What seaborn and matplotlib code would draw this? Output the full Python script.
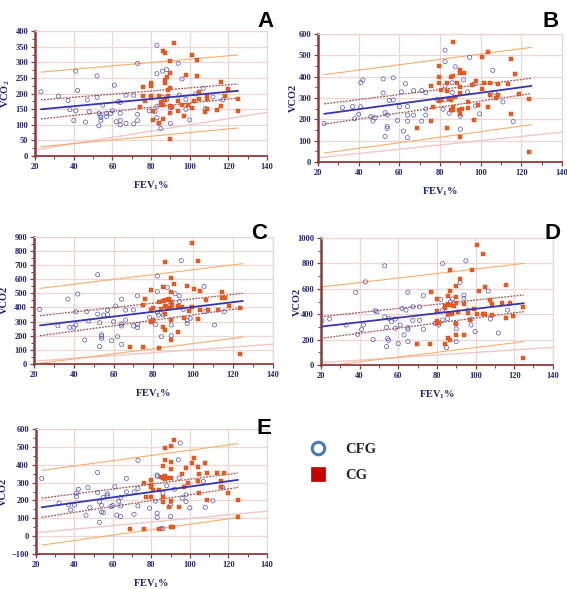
import matplotlib
matplotlib.use('Agg')
import matplotlib.pyplot as plt
import seaborn as sns
import pandas as pd
from matplotlib.lines import Line2D
from matplotlib.ticker import MultipleLocator, AutoMinorLocator

sns.set_style('white')
plt.rcParams['font.family'] = ['Liberation Serif', 'DejaVu Serif']
plt.rcParams['mathtext.fontset'] = 'custom'
plt.rcParams['mathtext.rm'] = 'Liberation Serif:bold'
plt.rcParams['mathtext.it'] = 'Liberation Serif:bold'
plt.rcParams['mathtext.bf'] = 'Liberation Serif:bold'

# ---- data ----
# panel A : VCO2
A_CFG_X = [23, 32, 37, 38, 40, 41, 41, 42, 46, 47, 48, 52, 52, 53, 53, 54, 54, 54, 55, 57, 57, 59, 60, 61,
           62, 63, 64, 64, 64, 64, 67, 67, 71, 71, 73, 73, 73, 79, 82, 83, 83, 83, 83, 84, 85, 86, 86, 88,
           88, 90, 90, 94, 94.5, 96, 98, 98, 100, 103, 107, 108, 112, 117]
A_CFG_Y = [206, 192, 178, 149, 114, 272, 145, 210, 109, 180, 142, 257, 188, 137, 97, 131, 124, 114, 163, 137,
           127, 137, 145, 227, 110, 175, 172, 137, 114, 100, 195, 105, 195, 103, 297, 134, 114, 145, 142, 355,
           264, 159, 123, 105, 88, 272, 189, 277, 180, 105, 155, 297, 195, 247, 182, 150, 116, 199, 217, 152,
           189, 180]
A_CG_X = [74, 76, 76, 77, 80, 80, 80, 80, 81, 81, 84, 84, 85, 85, 86, 86, 86, 87, 87, 87, 87, 88, 89, 89, 90,
          90, 90, 90, 90, 90, 90.6, 92, 94, 94, 96, 97, 98, 99, 101, 101, 102, 104, 104, 105, 105, 108, 109,
          109, 109, 114, 116, 116, 118, 120, 125, 125]
A_CG_Y = [157, 220, 194, 175, 233, 225, 194, 187, 146, 114, 191, 107, 174, 163, 336, 118, 163, 329, 244, 234,
          180, 253, 212, 193, 306, 266, 218, 161, 137, 54, 157, 362, 143, 175, 164, 129, 261, 165, 325, 153,
          175, 308, 258, 206, 184, 142, 191, 182, 152, 148, 236, 159, 191, 214, 182, 146]

# panel B : VCO2
B_CFG_X = [23, 32, 37, 38, 40, 41, 42, 41, 46, 47, 48, 52, 52, 53, 53, 54, 54, 54, 55, 57, 57, 59, 60, 61, 62,
           63, 64, 64, 64, 64, 67, 67, 71, 71, 73, 73, 73, 78.5, 81.5, 82.5, 82.5, 82.5, 82.5, 84.5, 86, 86,
           87.5, 90, 90, 91.6, 93.6, 94.6, 96.6, 97.5, 99.5, 106, 107, 111, 116]
B_CFG_Y = [181, 255, 260, 203, 224, 372, 385, 259, 213, 192, 207, 390, 324, 231, 120, 167, 157, 220, 288, 291,
           395, 195, 260, 329, 145, 367, 260, 220, 192, 114, 335, 220, 335, 192, 326, 249, 220, 294, 248, 525,
           471, 357, 291, 229, 372, 327, 447, 215, 154, 385, 329, 491, 365, 263, 226, 430, 327, 282, 190]
B_CG_X = [68.7, 75.6, 75.6, 76.6, 79.5, 79.5, 79.5, 79.5, 80.5, 80.5, 83.4, 83.4, 83.4, 84.4, 85.4, 85.4, 85.4,
          86.4, 86.4, 86.4, 86.4, 87.4, 88.4, 89.4, 90, 90, 90, 90, 90, 90, 90.7, 91.6, 93.6, 93.6, 95.6, 96.6,
          97.5, 98.5, 100.5, 100.5, 101.5, 103.4, 103.4, 104.4, 104.4, 107.4, 108.4, 108.4, 113.3, 115, 115,
          117, 119, 124, 124]
B_CG_Y = [159, 358, 193, 260, 450, 400, 372, 284, 291, 338, 373, 333, 159, 296, 397, 291, 245, 562, 404, 260,
          245, 307, 373, 245, 430, 419, 351, 326, 226, 117, 248, 419, 280, 255, 363, 198, 379, 269, 491, 341,
          373, 516, 260, 372, 313, 302, 365, 313, 366, 483, 226, 413, 319, 294, 48]

# panel C : VCO2
C_CFG_X = [22.8, 32, 37, 38, 40, 41, 41, 42, 45.5, 46.5, 47.5, 52, 52, 53, 53, 54, 54, 54, 55, 57, 57, 59, 60,
           61, 62, 64, 64, 64, 64, 66, 66, 70, 70, 72, 72, 72, 78, 81, 82, 82, 82, 82.5, 84, 85, 87, 88, 89, 89,
           91, 93, 93, 94, 95, 97, 97, 98.5, 105.5, 106, 110.7, 115.6]
C_CFG_Y = [386, 271, 459, 259, 259, 370, 276, 495, 170, 370, 304, 632, 353, 292, 123, 207, 195, 181, 346, 382,
           349, 165, 299, 410, 193, 459, 283, 269, 139, 382, 311, 382, 269, 483, 280, 257, 330, 280, 622, 511,
           365, 346, 193, 346, 542, 412, 200, 276, 497, 483, 441, 731, 386, 287, 309, 323, 549, 370, 276, 370]
C_CG_X = [68, 75, 75, 76, 79, 79, 79, 80, 80, 83, 83, 84, 85, 85, 85, 86, 86, 86, 86, 86, 87, 88, 89, 89, 89, 89,
          89, 89, 89.6, 90.5, 92.5, 92.5, 94.5, 95.5, 96.7, 97.7, 99.5, 99.5, 100.5, 102.5, 102.5, 103.5, 103.5,
          106.4, 107.4, 112.4, 114.4, 114.4, 116.2, 118.2, 123.3, 123.3]
C_CG_Y = [118, 118, 419, 462, 521, 382, 299, 311, 394, 115, 441, 386, 547, 448, 264, 721, 455, 412, 356, 240,
          394, 460, 606, 511, 436, 401, 311, 170, 417, 563, 410, 224, 405, 323, 554, 375, 857, 405, 530, 316,
          730, 518, 382, 455, 382, 382, 511, 464, 469, 408, 396, 71]

# panel D : VCO2
D_CFG_X = [20.5, 24.5, 33, 38, 39, 41, 42, 43, 47, 48, 49, 53, 53, 54, 54, 54.5, 55, 55, 56.5, 58.5, 58.5, 60,
           61, 62, 63, 64, 65, 65, 65, 65, 67.5, 67.5, 71, 71, 73, 73, 79, 81, 82, 83, 83, 83, 85, 85.5, 87, 88,
           89.8, 90, 90, 92, 94, 94, 95, 96, 97.7, 97.7, 99.8, 106.6, 107.7, 111.8, 116.6]
D_CFG_Y = [347, 363, 316, 572, 243, 279, 316, 655, 201, 428, 420, 781, 379, 298, 146, 211, 196, 368, 342, 290,
           363, 170, 316, 446, 238, 433, 572, 295, 279, 185, 352, 459, 459, 352, 546, 282, 329, 316, 517, 799,
           433, 355, 138, 368, 498, 520, 329, 285, 185, 650, 551, 525, 820, 433, 316, 363, 264, 582, 363, 253,
           433]
D_CG_X = [69.5, 76.4, 77, 80, 80, 80, 80, 81, 84, 84, 84.3, 86, 86, 86, 86, 87, 87, 87, 87, 88, 89, 90, 90, 90,
          90, 90, 90.7, 92, 94, 94, 96, 97, 98, 99, 100.8, 100.8, 101.8, 103.9, 103.9, 105, 105, 107.7, 108.7,
          108.7, 113.5, 115.6, 115.6, 117.6, 119.4, 124.5, 124.5]
D_CG_Y = [164, 164, 572, 520, 350, 332, 426, 332, 164, 467, 452, 543, 480, 405, 217, 747, 582, 473, 201, 405,
          467, 624, 533, 486, 326, 238, 420, 681, 478, 238, 407, 358, 749, 439, 942, 405, 585, 870, 399, 613,
          399, 514, 483, 394, 486, 629, 373, 486, 389, 460, 60]

# panel E : VCO2
E_CFG_X = [23, 32, 37, 38, 40, 41, 41, 42, 46, 47, 48, 52, 52, 53, 53, 54, 54, 55, 55, 57, 57, 59, 60, 61, 62,
           63, 64, 64, 64, 67, 67, 71, 71, 73, 73, 73, 79, 82, 83, 83, 83, 83, 85, 86, 86, 88, 90, 90, 92, 94,
           94.4, 95, 96, 98, 98, 100, 107, 108, 112, 117]
E_CFG_Y = [323, 185, 175, 147, 174, 241, 222, 263, 118, 272, 160, 356, 245, 192, 78, 174, 136, 133, 218, 237,
           226, 166, 172, 278, 119, 196, 218, 170, 110, 323, 248, 248, 123, 424, 267, 170, 157, 196, 342, 334,
           129, 106, 43, 43, 241, 282, 110, 174, 263, 427, 325, 521, 213, 231, 194, 159, 306, 162, 198, 274]
E_CG_X = [69, 76, 76, 77, 80, 80, 80, 80, 81, 84, 84, 85, 86, 86, 86, 86, 87, 87, 87, 87, 88, 89, 90, 90, 90, 90,
          90, 90, 91, 92, 94.4, 96, 97, 98, 99, 101, 102, 104, 104, 105, 105, 108, 109, 109, 114, 116, 116, 118,
          120, 125, 125]
E_CG_Y = [43, 43, 300, 222, 315, 289, 274, 222, 259, 43, 259, 330, 394, 194, 218, 327, 495, 424, 334, 319, 325,
          162, 503, 416, 375, 327, 196, 54, 54, 537, 162, 345, 278, 379, 300, 409, 437, 385, 311, 345, 244, 411,
          353, 204, 353, 308, 274, 353, 241, 204, 106]

# fitted lines: value at x start / x end (regression, 95% CI, prediction limits)
FIT_X = [23, 125]
A_FIT, A_CI_HI, A_CI_LO, A_PI_HI, A_PI_LO = [150, 209], [180, 231], [119, 186], [269, 324], [30, 90]
B_FIT, B_CI_HI, B_CI_LO, B_PI_HI, B_PI_LO = [226, 357], [273, 393], [178, 321], [410, 538], [42, 175]
C_FIT, C_CI_HI, C_CI_LO, C_PI_HI, C_PI_LO = [273, 446], [342, 500], [200, 396], [535, 710], [5, 190]
E_FIT, E_CI_HI, E_CI_LO, E_PI_HI, E_PI_LO = [162, 315], [213, 353], [106, 273], [368, 517], [-49, 105]
D_FIT_X = [20, 125]
D_FIT, D_CI_HI, D_CI_LO, D_PI_HI = [303, 487], [381, 552], [211, 421], [614, 800]
D_PI_LO_X, D_PI_LO = [30, 125], [8, 185]
IDENT_X = [20, 140]

YTICKS = {'A': (0, 400, 50), 'B': (0, 600, 100), 'C': (0, 900, 100), 'D': (0, 1000, 200), 'E': (-100, 600, 100)}
YLABELS = {'A': 'VCO$_2$', 'B': 'VCO2', 'C': 'VCO2', 'D': 'VCO2', 'E': 'VCO2'}

NAVY = '#23236e'
SPINE = '#8c3c3c'
GRID = '#eed6d6'

fig = plt.figure(figsize=(5.67, 5.89), dpi=100)

boxes = {
    'A': [0.062, 0.735, 0.409, 0.212],
    'B': [0.561, 0.725, 0.430, 0.217],
    'C': [0.060, 0.382, 0.421, 0.216],
    'D': [0.566, 0.380, 0.409, 0.216],
    'E': [0.0635, 0.059, 0.407, 0.213],
}
ylabel_x = {'A': -0.10, 'B': -0.083, 'C': -0.105, 'D': -0.08, 'E': -0.12}
letter_pos = {'A': (0.468, 0.982), 'B': (0.971, 0.982), 'C': (0.457, 0.622), 'D': (0.975, 0.622),
              'E': (0.466, 0.290)}

panels = {
    'A': (A_CFG_X, A_CFG_Y, A_CG_X, A_CG_Y),
    'B': (B_CFG_X, B_CFG_Y, B_CG_X, B_CG_Y),
    'C': (C_CFG_X, C_CFG_Y, C_CG_X, C_CG_Y),
    'D': (D_CFG_X, D_CFG_Y, D_CG_X, D_CG_Y),
    'E': (E_CFG_X, E_CFG_Y, E_CG_X, E_CG_Y),
}
lines = {
    'A': (FIT_X, A_FIT, A_CI_HI, A_CI_LO, A_PI_HI, FIT_X, A_PI_LO),
    'B': (FIT_X, B_FIT, B_CI_HI, B_CI_LO, B_PI_HI, FIT_X, B_PI_LO),
    'C': (FIT_X, C_FIT, C_CI_HI, C_CI_LO, C_PI_HI, FIT_X, C_PI_LO),
    'D': (D_FIT_X, D_FIT, D_CI_HI, D_CI_LO, D_PI_HI, D_PI_LO_X, D_PI_LO),
    'E': (FIT_X, E_FIT, E_CI_HI, E_CI_LO, E_PI_HI, FIT_X, E_PI_LO),
}

for key, (cx, cy, gx, gy) in panels.items():
    ax = fig.add_axes(boxes[key])
    lo, hi, step = YTICKS[key]

    # identity line, prediction limits, CI, regression
    ax.plot(IDENT_X, IDENT_X, color='#f0c6c6', lw=1.0, zorder=1)
    lx, fit, cih, cil, pih, plx, pil = lines[key]
    ax.plot(lx, pih, color='#f8ae6a', lw=0.8, zorder=2)
    ax.plot(plx, pil, color='#f8ae6a', lw=0.8, zorder=2)
    ax.plot(lx, cih, color='#a4504c', lw=0.9, ls=(0, (1.5, 1)), zorder=2)
    ax.plot(lx, cil, color='#a4504c', lw=0.9, ls=(0, (1.5, 1)), zorder=2)

    cfg = pd.DataFrame({'x': cx, 'y': cy})
    cg = pd.DataFrame({'x': gx, 'y': gy})
    sns.scatterplot(data=cfg, x='x', y='y', ax=ax, marker='o', s=9, facecolor='none',
                    edgecolor='#5454b8', linewidth=0.5, zorder=3)
    sns.scatterplot(data=cg, x='x', y='y', ax=ax, marker='s', s=10, color='#ec5c20',
                    edgecolor='#cc4a1c', linewidth=0.3, zorder=4)
    ax.plot(lx, fit, color='#3636ae', lw=1.3, zorder=5)

    ax.set_xlim(20, 140)
    ax.set_ylim(lo, hi)
    ax.xaxis.set_major_locator(MultipleLocator(20))
    ax.yaxis.set_major_locator(MultipleLocator(step))
    ax.xaxis.set_minor_locator(AutoMinorLocator(2))
    ax.yaxis.set_minor_locator(AutoMinorLocator(2))
    ax.grid(True, which='major', color=GRID, lw=0.9)
    ax.set_axisbelow(True)

    for s in ['top', 'right']:
        ax.spines[s].set_color('#ecd2d2')
        ax.spines[s].set_linewidth(0.8)
    ax.spines['left'].set_color(SPINE)
    ax.spines['left'].set_linewidth(1.8)
    ax.spines['bottom'].set_color(SPINE)
    ax.spines['bottom'].set_linewidth(1.3)

    ax.tick_params(which='both', direction='out', color=SPINE, labelcolor=NAVY, labelsize=6,
                   left=True, bottom=True, pad=2)
    ax.tick_params(which='major', length=3, width=0.9)
    ax.tick_params(which='minor', length=2, width=0.7)
    for lab in ax.get_xticklabels() + ax.get_yticklabels():
        lab.set_fontweight('bold')

    ax.set_xlabel('FEV$_1$%', color=NAVY, fontsize=7.5, fontweight='bold', labelpad=6)
    ax.set_ylabel(YLABELS[key], color=NAVY, fontsize=7.5, fontweight='bold')
    ax.yaxis.set_label_coords(ylabel_x[key], 0.5)

    fig.text(letter_pos[key][0], letter_pos[key][1], key, family=['Liberation Sans', 'DejaVu Sans'],
             fontsize=16, fontweight='bold', ha='center', va='top', color='black')

handles = [
    Line2D([], [], marker='o', ls='none', markersize=9, markerfacecolor='white',
           markeredgecolor='#4a7bb0', markeredgewidth=2.2),
    Line2D([], [], marker='s', ls='none', markersize=9.5, markerfacecolor='#c40000',
           markeredgecolor='#b02020', markeredgewidth=0.6),
]
fig.legend(handles, ['CFG', 'CG'], loc='upper left', bbox_to_anchor=(0.512, 0.27), frameon=False,
           prop={'family': 'Liberation Serif', 'weight': 'bold', 'size': 10.5},
           handletextpad=0.9, labelspacing=0.85)

fig.savefig('out.png', dpi=100)
